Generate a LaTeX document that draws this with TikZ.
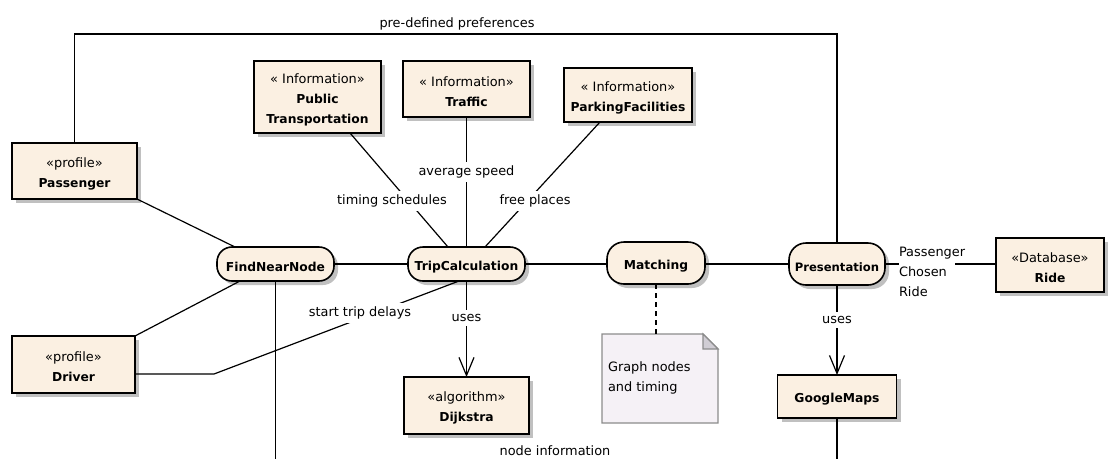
\documentclass[tikz,border=0pt]{standalone}
\usepackage{fontspec}
\setmainfont{DejaVu Sans}
\usetikzlibrary{arrows.meta,shadows}

\definecolor{boxfill}{RGB}{251,240,226}
\definecolor{notefill}{RGB}{245,241,246}
\definecolor{notedraw}{RGB}{140,140,140}
\definecolor{notefold}{RGB}{208,205,212}
\definecolor{shade}{RGB}{192,192,192}

% extra room above the first text line, so box texts sit a little low
\newcommand\toppad{\rule{0pt}{15pt}}
% bold element names, set a touch smaller than the plain text
\newcommand\elname[2][12.3]{{\fontsize{#1}{20}\selectfont\bfseries #2}}

\begin{document}
\begin{tikzpicture}[x=1pt,y=-1pt,
  font=\fontsize{12.9}{20}\selectfont,
  every node/.style={inner sep=0pt, outer sep=0pt},
  classbox/.style={draw, line width=1.6pt, fill=boxfill, align=center,
    drop shadow={shadow xshift=4pt, shadow yshift=-4pt, fill=shade, opacity=1}},
  activity/.style={classbox, rounded corners=#1},
  activity/.default=15pt,
  conn/.style={line width=1.2pt},
  usesarrow/.style={conn, -{Straight Barb[length=18pt,width=15pt,line width=1.2pt]}},
  lbl/.style={fill=white, inner xsep=1pt, inner ysep=4pt},
]
\useasboundingbox (0,0) rectangle (1112,459);

% ---- class boxes ----
\node[classbox, minimum width=125pt, minimum height=56pt] (pass) at (74.5,171)
  {\toppad«profile»\\\elname{Passenger}};
\node[classbox, minimum width=123pt, minimum height=57pt] (drv) at (73.5,364.5)
  {\toppad«profile»\\\elname{Driver}};
\node[classbox, minimum width=127pt, minimum height=72pt] (pt) at (317.5,97)
  {\toppad« Information»\\\elname{Public}\\\elname{Transportation}};
\node[classbox, minimum width=127pt, minimum height=56pt] (trf) at (466.5,89)
  {\toppad« Information»\\\elname{Traffic}};
\node[classbox, minimum width=128pt, minimum height=54pt] (park) at (628,95)
  {\toppad« Information»\\\elname{ParkingFacilities}};
\node[classbox, minimum width=108pt, minimum height=54pt] (ride) at (1050,265)
  {\toppad«Database»\\\elname{Ride}};
\node[classbox, minimum width=125pt, minimum height=57pt] (dijk) at (466.5,405.5)
  {\toppad«algorithm»\\\elname{Dijkstra}};
\node[classbox, minimum width=119pt, minimum height=43pt] (gmaps) at (837,396.5)
  {\toppad\elname{GoogleMaps}};

% ---- activities ----
\node[activity, minimum width=117pt, minimum height=34pt] (fnn) at (275.5,264)
  {\toppad\elname{FindNearNode}};
\node[activity, minimum width=117pt, minimum height=34pt] (trip) at (466.5,264)
  {\toppad\elname{TripCalculation}};
\node[activity=17pt, minimum width=98pt, minimum height=42pt] (match) at (656,263)
  {\toppad\elname{Matching}};
\node[activity=17pt, minimum width=96pt, minimum height=42pt] (pres) at (837,264)
  {\toppad\elname[11.6]{Presentation}};

% ---- note ----
\node[minimum width=116pt, minimum height=89pt] (note) at (660,378.5) {};
\filldraw[fill=notefill, draw=notedraw, line width=1.2pt]
  (note.south west) -- (note.north west) -- ([xshift=-15pt]note.north east)
  -- ([yshift=-15pt]note.north east) -- (note.south east) -- cycle;
\filldraw[fill=notefold, draw=notedraw, line width=1.2pt]
  ([xshift=-15pt]note.north east) -- ([xshift=-15pt,yshift=-15pt]note.north east)
  -- ([yshift=-15pt]note.north east) -- cycle;
% base anchor of a two-line node is the baseline of its last line
\node[anchor=base west, align=left] (notetxt) at ([xshift=6pt,yshift=-57pt]note.north west)
  {Graph nodes\\and timing};

% label beside the Presentation--Ride link (no fill, the line stops short of it)
\node[anchor=west, align=left] (pcr) at (899,272) {Passenger\\Chosen\\Ride};

% ---- connectors ----
\coordinate (prefs) at (457,34);
\coordinate (bottom) at (0,459);
\coordinate (kink) at (214,374);
\coordinate (gapend) at (955,264);

\draw[conn] (pass.north) |- (prefs) -| (pres.north);
\draw[conn] ([xshift=32.5pt]pt.south) -- ([xshift=-18.5pt]trip.north);
\draw[conn] (trf.south) -- (trip.north);
\draw[conn] ([xshift=-28pt]park.south) -- ([xshift=18.5pt]trip.north);
\draw[conn] (pass.south east) -- ([xshift=-40.5pt]fnn.north);
\draw[conn] (drv.north east) -- ([xshift=-35.5pt]fnn.south);
\draw[conn] ([yshift=-9.5pt]drv.east) -- (kink) -- ([xshift=-7.5pt]trip.south);
\draw[conn] (fnn.east) -- (trip.west);
\draw[conn] (trip.east) -- (match.west |- trip.east);
\draw[conn] (match.east |- pres.west) -- (pres.west);
\draw[conn] (pres.east) -- (pres.east -| pcr.west);
\draw[conn] (gapend) -- (ride.west |- gapend);
\draw[usesarrow] (trip.south) -- (dijk.north);
\draw[usesarrow] (pres.south) -- (gmaps.north);
\draw[conn, dash pattern=on 5pt off 4pt] (match.south) -- (match.south |- note.north);
\draw[conn] (fnn.south) -- (fnn.south |- bottom);
\draw[conn] (gmaps.south) -- (gmaps.south |- bottom);

% ---- connector labels ----
\node (lpref) at (457,24) {pre-defined preferences};
\node[lbl] (lspeed) at (466.5,172) {average speed};
\node[lbl] (ltiming) at (392,201) {timing schedules};
\node[lbl] (lfree) at (535,201) {free places};
\node[lbl] (ldelay) at (360,313) {start trip delays};
\node[lbl] (luses1) at (466.5,318) {uses};
\node[lbl] (luses2) at (837,320) {uses};
\node (lnode) at (555,451) {node information};
\end{tikzpicture}
\end{document}
